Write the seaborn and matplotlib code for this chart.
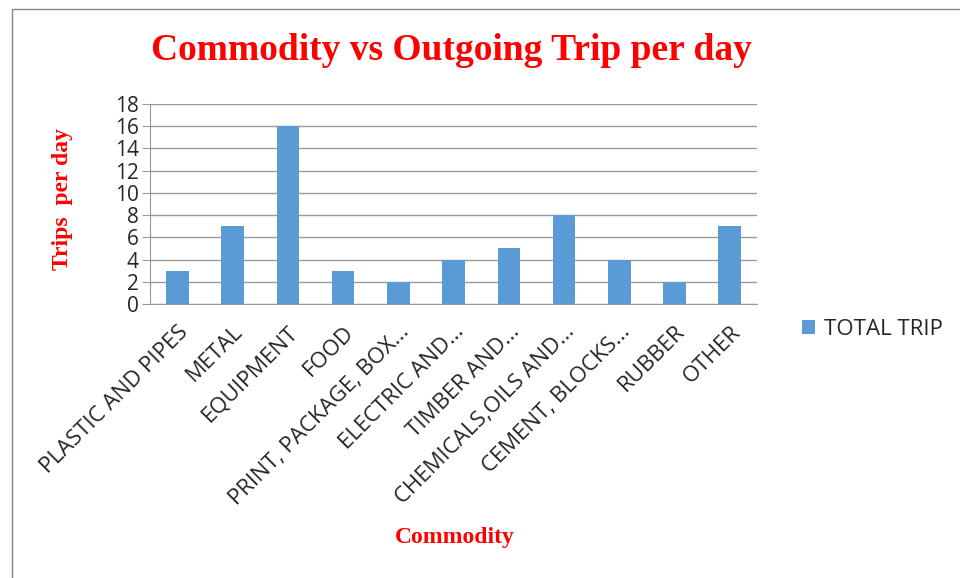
import matplotlib.pyplot as plt
import pandas as pd
import seaborn as sns
from matplotlib.lines import Line2D

# data
commodities = ['PLASTIC AND PIPES', 'METAL', 'EQUIPMENT', 'FOOD', 'PRINT, PACKAGE, BOX...',
               'ELECTRIC AND...', 'TIMBER AND...', 'CHEMICALS,OILS AND...', 'CEMENT, BLOCKS...',
               'RUBBER', 'OTHER']
total_trip = [3, 7, 16, 3, 2, 4, 5, 8, 4, 2, 7]
y_ticks = [0, 2, 4, 6, 8, 10, 12, 14, 16, 18]

df = pd.DataFrame({'commodity': commodities, 'trips': total_trip})

sns.set_style('white')
plt.rcParams['font.family'] = ['Open Sans', 'DejaVu Sans']

fig = plt.figure(figsize=(9.6, 5.78), dpi=100)
ax = fig.add_axes([0.156, 0.474, 0.633, 0.346])

sns.barplot(data=df, x='commodity', y='trips', color='#5B9BD5', width=0.41,
            saturation=1, linewidth=0, ax=ax, label='TOTAL TRIP', zorder=3)

ax.set_ylim(0, 18)
ax.set_yticks(y_ticks)
ax.set_xlim(-0.5, len(commodities) - 0.5)
ax.yaxis.grid(True, color='#999999', linewidth=1, zorder=0)
for s in ['top', 'right']:
    ax.spines[s].set_visible(False)
ax.spines['left'].set_color('#999999')
ax.spines['bottom'].set_color('#999999')
ax.tick_params(axis='y', left=True, length=6, color='#999999', labelsize=15, pad=2)
ax.tick_params(axis='x', bottom=False, labelsize=16, pad=9)
plt.setp(ax.get_xticklabels(), rotation=45, ha='right', rotation_mode='anchor')

ax.set_xlabel('')
ax.set_ylabel('')
fig.text(0.47, 0.913, 'Commodity vs Outgoing Trip per day', ha='center', va='center',
         family='Liberation Serif', weight='bold', color='red', fontsize=27)
fig.text(0.065, 0.655, 'Trips  per day', ha='center', va='center', rotation=90,
         family='Liberation Serif', weight='bold', color='red', fontsize=17)
fig.text(0.474, 0.07, 'Commodity', ha='center', va='center',
         family='Liberation Serif', weight='bold', color='red', fontsize=17)

ax.legend(loc='center left', bbox_to_anchor=(0.815, 0.43), bbox_transform=fig.transFigure,
          frameon=False, fontsize=16, handlelength=0.55, handleheight=0.55, handletextpad=0.4)

# outer chart frame
fig.add_artist(Line2D([0.012, 0.012], [0, 0.985], transform=fig.transFigure, color='#888888', lw=1))
fig.add_artist(Line2D([0.012, 1], [0.985, 0.985], transform=fig.transFigure, color='#888888', lw=1))

fig.savefig('out.png', dpi=100)
